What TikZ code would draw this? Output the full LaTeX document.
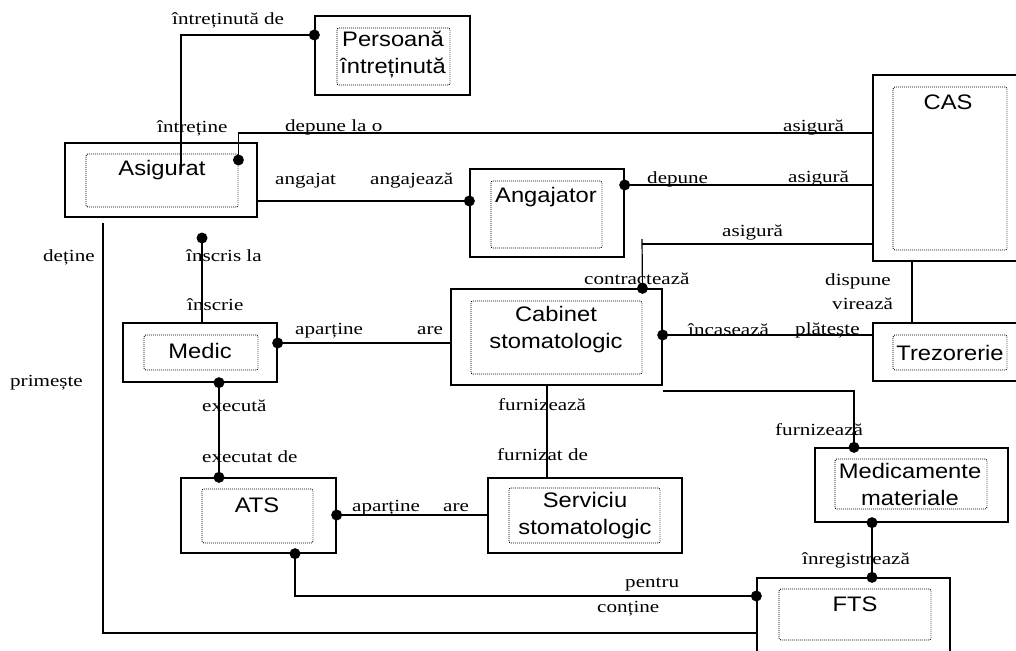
\documentclass[tikz,border=0pt]{standalone}
\usepackage{fontspec}
\usetikzlibrary{fit}
\newfontfamily\lblfont[FakeStretch=1.24]{Liberation Serif}
\newfontfamily\entfont[FakeStretch=1.13]{Liberation Sans}
\tikzset{
  outerbox/.style={draw, line width=1.3pt, inner sep=0pt},
  innerbox/.style={draw, line width=0.9pt, dash pattern=on 0.9pt off 1.1pt, rounded corners=2pt, inner sep=0pt},
  ename/.style={font=\entfont\fontsize{21}{27}\selectfont, align=center, inner sep=0pt},
  rel/.style={font=\lblfont\fontsize{17}{17}\selectfont, anchor=west, inner sep=0pt},
  joint/.style={circle, fill, inner sep=0pt, minimum size=11pt},
  conn/.style={line width=1.2pt},
}
\begin{document}
\begin{tikzpicture}[x=1pt,y=-1pt]
  \useasboundingbox (0,0) rectangle (1016,650);
  \clip (0,0) rectangle (1016,650);

  \node[outerbox, fit={(315,16) (470,95)}] (pers) {};
  \node[innerbox, fit={(337,28) (450,85)}] (persin) {};
  \node[ename] (perst) at (393,54) {Persoană\\întreținută};

  \node[outerbox, fit={(65,143) (257,217)}] (asig) {};
  \node[innerbox, fit={(86,154) (238,207)}] (asigin) {};
  \node[ename] (asigt) at (162,170) {Asigurat};

  \node[outerbox, fit={(470,169) (624,257)}] (angj) {};
  \node[innerbox, fit={(491,181) (602,248)}] (angjin) {};
  \node[ename] (angjt) at (546,197) {Angajator};

  \node[outerbox, fit={(873,75) (1040,261)}] (cas) {};
  \node[innerbox, fit={(893,87) (1007,250)}] (casin) {};
  \node[ename] (cast) at (948,102) {CAS};

  \node[outerbox, fit={(123,323) (277,382)}] (medic) {};
  \node[innerbox, fit={(144,335) (258,370)}] (medicin) {};
  \node[ename] (medict) at (200,351) {Medic};

  \node[outerbox, fit={(451,289) (662,385)}] (cab) {};
  \node[innerbox, fit={(471,301) (642,374)}] (cabin) {};
  \node[ename] (cabt) at (556,330) {Cabinet\\stomatologic};

  \node[outerbox, fit={(873,323) (1040,381)}] (trez) {};
  \node[innerbox, fit={(893,335) (1007,370)}] (trezin) {};
  \node[ename] (trezt) at (950,353) {Trezorerie};

  \node[outerbox, fit={(815,448) (1008,522)}] (medm) {};
  \node[innerbox, fit={(835,459) (987,509)}] (medmin) {};
  \node[ename] (medmt) at (910,484) {Medicamente\\materiale};

  \node[outerbox, fit={(181,478) (336,553)}] (ats) {};
  \node[innerbox, fit={(202,489) (313,543)}] (atsin) {};
  \node[ename] (atst) at (257,505) {ATS};

  \node[outerbox, fit={(488,478) (682,553)}] (serv) {};
  \node[innerbox, fit={(509,488) (660,543)}] (servin) {};
  \node[ename] (servt) at (585,516) {Serviciu\\stomatologic};

  \node[outerbox, fit={(757,578) (950,680)}] (fts) {};
  \node[innerbox, fit={(779,589) (931,640)}] (ftsin) {};
  \node[ename] (ftst) at (855,604) {FTS};

  \coordinate (intr) at (181,173);
  \coordinate (inscr) at (202,238);
  \coordinate (detine) at (103,223);
  \coordinate (contr) at (642,239);

  % connectors
  \draw[conn] (pers.west |- 0,35) node[joint] {} -| (intr);
  \draw[conn] (cas.west |- 0,133) -| (asigin.east |- 0,160) node[joint] {};
  \draw[conn] (asig.east |- 0,201) -- (angj.west |- 0,201) node[joint] {};
  \draw[conn] (angj.east |- 0,185) node[joint] {} -- (cas.west |- 0,185);
  \draw[conn] (cas.west |- 0,244) -- (contr |- 0,244);
  \draw[conn] (contr) -- (cabin.east |- cab.north) node[joint] {};
  \draw[conn] (cas.south -| 912,0) -- (trez.north -| 912,0);
  \draw[conn] (cab.east |- 0,335) node[joint] {} -- (trez.west |- 0,335);
  \draw[conn] (medic.north -| inscr) -- (inscr) node[joint] {};
  \draw[conn] (medic.east |- 0,343) node[joint] {} -- (cab.west |- 0,343);
  \draw[conn] (medic.south -| 219,0) node[joint] {} -- (ats.north -| 219,0) node[joint] {};
  \draw[conn] (cab.south -| 547,0) -- (serv.north -| 547,0);
  \draw[conn] (cab.east |- 0,391) -| (medm.north -| 854,0) node[joint] {};
  \draw[conn] (ats.east |- 0,515) node[joint] {} -- (serv.west |- 0,515);
  \draw[conn] (medm.south -| 872,0) node[joint] {} -- (fts.north -| 872,0) node[joint] {};
  \draw[conn] (ats.south -| 295,0) node[joint] {} |- (fts.west |- 0,596) node[joint] {};
  \draw[conn] (detine) |- (fts.west |- 0,633);

  % relationship labels
  \node[rel] (r1) at (172,20) {întreținută de};
  \node[rel] (r2) at (157,128) {întreține};
  \node[rel] (r3) at (285,127) {depune la o};
  \node[rel] (r4) at (783,128) {asigură};
  \node[rel] (r5) at (275,181) {angajat};
  \node[rel] (r6) at (370,181) {angajează};
  \node[rel] (r7) at (647,179) {depune};
  \node[rel] (r8) at (788,179) {asigură};
  \node[rel] (r9) at (722,233) {asigură};
  \node[rel] (r10) at (584,279) {contractează};
  \node[rel] (r11) at (825,281) {dispune};
  \node[rel] (r12) at (832,304) {virează};
  \node[rel] (r13) at (43,257) {deține};
  \node[rel] (r14) at (186,256) {înscris la};
  \node[rel] (r15) at (187,305) {înscrie};
  \node[rel] (r16) at (295,331) {aparține};
  \node[rel] (r17) at (417,331) {are};
  \node[rel] (r18) at (688,330) {încasează};
  \node[rel] (r19) at (795,330) {plătește};
  \node[rel] (r20) at (10,383) {primește};
  \node[rel] (r21) at (202,406) {execută};
  \node[rel] (r22) at (498,405) {furnizează};
  \node[rel] (r23) at (775,430) {furnizează};
  \node[rel] (r24) at (202,457) {executat de};
  \node[rel] (r25) at (497,455) {furnizat de};
  \node[rel] (r26) at (352,508) {aparține};
  \node[rel] (r27) at (443,508) {are};
  \node[rel] (r28) at (802,560) {înregistrează};
  \node[rel] (r29) at (625,585) {pentru};
  \node[rel] (r30) at (597,609) {conține};
\end{tikzpicture}
\end{document}
